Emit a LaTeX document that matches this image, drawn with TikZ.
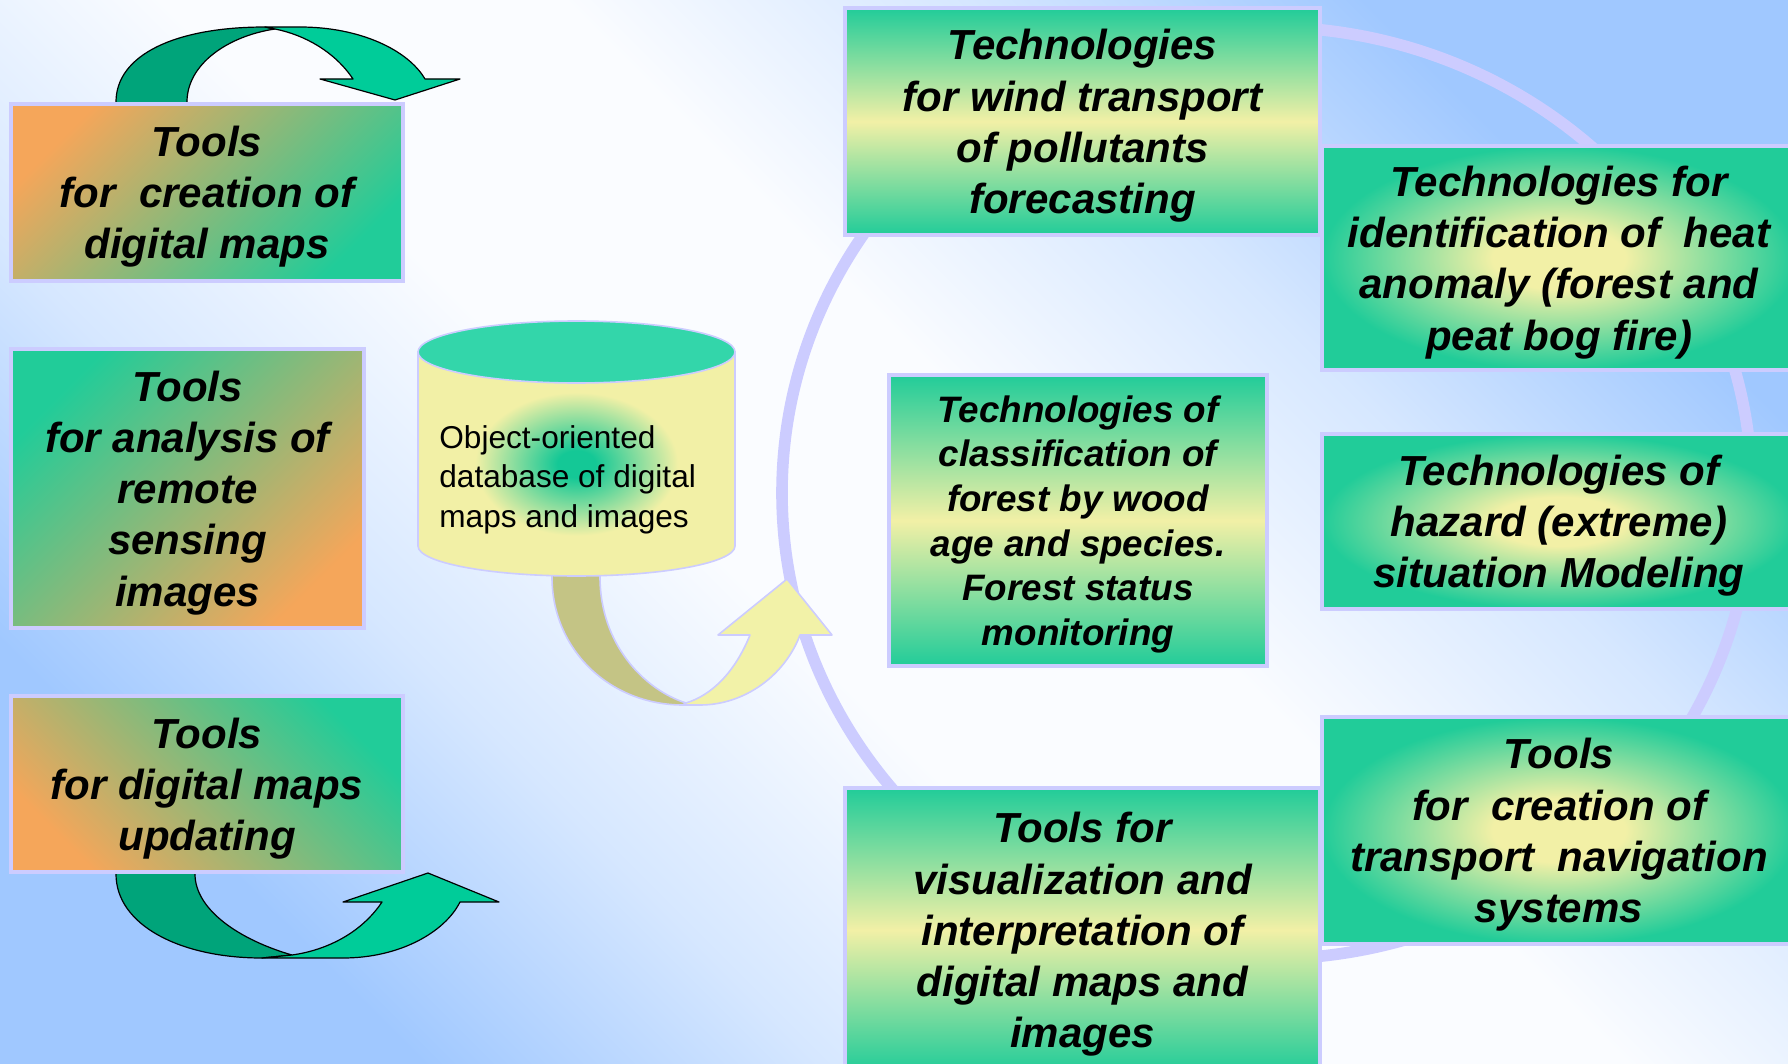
\documentclass[tikz,border=0pt]{standalone}
\usepackage{fontspec}
\setmainfont{Liberation Sans}
\definecolor{tealC}{RGB}{33,204,153}
\definecolor{yelC}{RGB}{242,240,166}
\definecolor{orgC}{RGB}{245,166,90}
\definecolor{lav}{RGB}{204,204,255}
\definecolor{arrD}{RGB}{0,164,122}
\definecolor{arrL}{RGB}{0,204,153}
\definecolor{cyltop}{RGB}{51,214,170}
\definecolor{cylgreen}{RGB}{20,200,150}
\definecolor{carD}{RGB}{196,196,133}
\definecolor{carL}{RGB}{242,242,168}
\definecolor{bgblue}{RGB}{160,200,255}
\definecolor{bgwhite}{RGB}{250,252,255}
\colorlet{bgmid}{bgblue!40!bgwhite}
\pgfdeclareverticalshading{bgshade}{100bp}{color(0bp)=(bgblue); color(25bp)=(bgblue); color(35bp)=(bgmid); color(45bp)=(bgwhite); color(55bp)=(bgwhite); color(65bp)=(bgmid); color(75bp)=(bgblue); color(100bp)=(bgblue)}
\pgfdeclareradialshading{glowbox}{\pgfpoint{0bp}{0bp}}{color(0bp)=(yelC); color(7bp)=(yelC); color(25bp)=(tealC); color(50bp)=(tealC)}
\pgfdeclareradialshading{cylglow}{\pgfpoint{0bp}{0bp}}{color(0bp)=(cylgreen); color(3bp)=(cylgreen); color(16bp)=(yelC); color(50bp)=(yelC)}
\begin{document}
\begin{tikzpicture}[x=0.5pt,y=-0.5pt,
  boxst/.style={rectangle, draw=lav, line width=2pt, inner sep=0pt},
  vband/.style={top color=tealC, bottom color=tealC, middle color=yelC},
  glow/.style={shade, shading=glowbox},
  boxtxt/.style={align=center, inner sep=0pt, yshift=-2.2pt,
     font=\fontsize{21}{25.6}\selectfont\bfseries\itshape},
  smalltxt/.style={align=center, inner sep=0pt, yshift=-1.9pt,
     font=\fontsize{18.4}{22.3}\selectfont\bfseries\itshape},
  cyltxt/.style={align=left, inner sep=0pt, font=\fontsize{15.8}{19.75}\selectfont},
  ringst/.style={draw=lav, line width=5.8pt},
  arrdark/.style={fill=arrD, draw=black, line width=0.6pt, line join=round},
  arrlight/.style={fill=arrL, draw=black, line width=0.6pt, line join=round},
  cardark/.style={fill=carD, draw=lav, line width=0.8pt, line join=round},
  carlight/.style={fill=carL, draw=lav, line width=0.8pt, line join=round}]
\useasboundingbox (0,0) rectangle (1788,1064);
\clip (0,0) rectangle (1788,1064);
% background
\shade[shading=bgshade, shading angle=-45] (0,0) rectangle (1788,1064);
% ring
\draw[ringst] (1267,493) ellipse [x radius=485, y radius=466];
% top-left curved arrow
\path[arrdark] (116,112) -- (116,102) .. controls (116,55) and (175,27) .. (265,27)
   -- (275,29) .. controls (228,36) and (187,64) .. (187,102) -- (187,112) -- cycle;
\path[arrlight] (265,27) -- (300,27) .. controls (360,27) and (408,50) .. (425,79)
   -- (460,79) -- (395,100) -- (320,79) -- (353,79)
   .. controls (335,52) and (305,35) .. (275,29) -- cycle;
% bottom-left curved arrow
\path[arrdark] (116,864) -- (116,874) .. controls (116,925) and (180,958) .. (262,958)
   -- (292,955) .. controls (240,940) and (195,910) .. (195,874) -- (195,864) -- cycle;
\path[arrlight] (262,958) -- (343,958) .. controls (400,958) and (445,932) .. (460,902)
   -- (499,902) -- (428,873) -- (343,902) -- (382,902)
   .. controls (362,932) and (328,950) .. (292,955) -- cycle;
% database curved arrow
\path[cardark] (552,565) -- (552,577) .. controls (552,650) and (610,705) .. (683,705)
   -- (686,703) .. controls (645,690) and (600,645) .. (600,577) -- (600,565) -- cycle;
\path[carlight] (683,705) -- (700,705) .. controls (745,705) and (785,675) .. (800,635)
   -- (832,635) -- (787,579) -- (718,635) -- (750,635)
   .. controls (735,672) and (712,695) .. (686,703) -- cycle;
% database cylinder
\path[shade, shading=cylglow, draw=lav, line width=0.8pt] (418,352) -- (418,546)
   arc[start angle=180, end angle=0, x radius=158.5, y radius=30] -- (735,352) -- cycle;
\path[fill=cyltop, draw=lav, line width=0.8pt] (576.5,352) ellipse [x radius=158.5, y radius=31];
\node[cyltxt, anchor=north west] (db) at (439,425) {Object-oriented\\database of digital\\maps and images};
% left boxes
\node[boxst, minimum width=196pt, minimum height=88.5pt, left color=orgC, right color=tealC, shading angle=45] (b1) at (207,192.5) {};
\node[boxtxt] (t1) at (b1.center) {Tools\\for\ \ creation of\\digital maps};
\node[boxst, minimum width=176.5pt, minimum height=139.5pt, left color=tealC, right color=orgC, shading angle=45] (b2) at (187.5,488.5) {};
\node[boxtxt] (t2) at (b2.center) {Tools\\for analysis of\\remote\\sensing\\images};
\node[boxst, minimum width=196pt, minimum height=88pt, top color=tealC, bottom color=orgC, shading angle=-45] (b3) at (207,784) {};
\node[boxtxt] (t3) at (b3.center) {Tools\\for digital maps\\updating};
% right boxes
\node[boxst, vband, minimum width=237.5pt, minimum height=113.5pt] (w) at (1082.5,121.5) {};
\node[boxtxt] (tw) at (w.center) {Technologies\\for wind transport\\of pollutants\\forecasting};
\node[boxst, vband, minimum width=189pt, minimum height=145.5pt] (c) at (1078,520.5) {};
\node[smalltxt] (tc) at (c.center) {Technologies of\\classification of\\forest by wood\\age and species.\\Forest status\\monitoring};
\node[boxst, glow, minimum width=237pt, minimum height=112pt] (h) at (1559,258) {};
\node[boxtxt] (th) at (h.center) {Technologies for\\identification of\ \ heat\\anomaly (forest and\\peat bog fire)};
\node[boxst, glow, minimum width=237pt, minimum height=87.5pt] (z) at (1559,521.5) {};
\node[boxtxt] (tz) at (z.center) {Technologies of\\hazard (extreme)\\situation Modeling};
\node[boxst, glow, minimum width=237pt, minimum height=113.5pt] (n) at (1559,830.5) {};
\node[boxtxt] (tn) at (n.center) {Tools\\for\ \ creation of\\transport\ \ navigation\\systems};
\node[boxst, vband, minimum width=237.5pt, minimum height=142pt] (v) at (1082.5,930) {};
\node[boxtxt] (tv) at (v.center) {Tools for\\visualization and\\interpretation of\\digital maps and\\images};
\end{tikzpicture}
\end{document}
